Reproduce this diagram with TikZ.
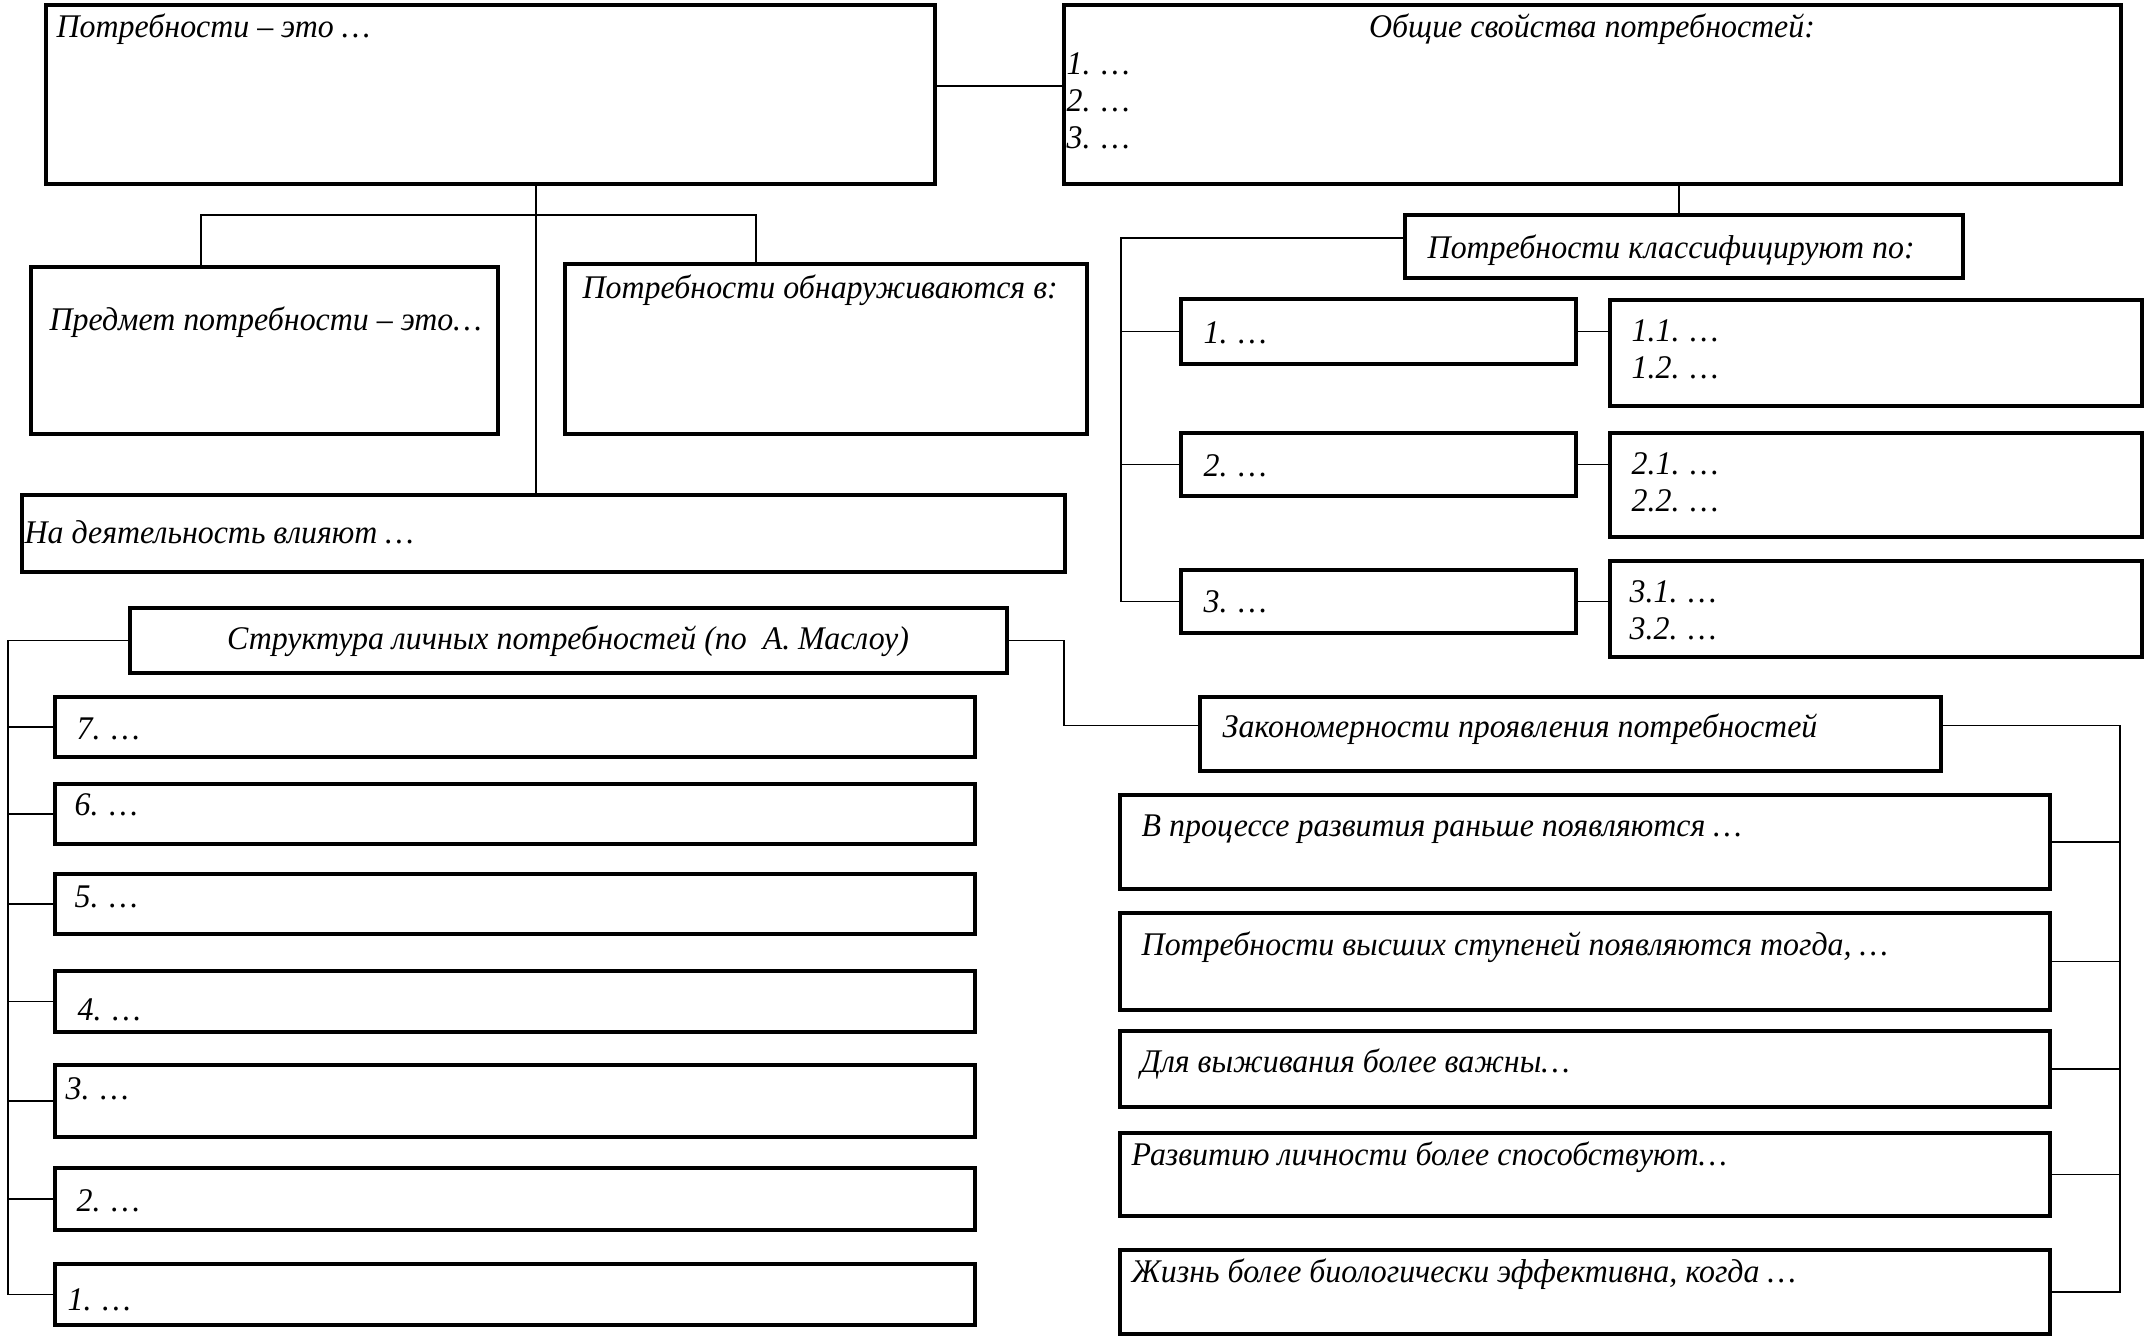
\documentclass[tikz,border=0pt]{standalone}
\usepackage{fontspec}
\setmainfont[FakeStretch=0.965]{Liberation Serif}
\usetikzlibrary{fit}
\tikzset{
 box/.style={draw, line width=1pt, inner sep=0pt},
 conn/.style={draw, line width=0.5pt},
 txt/.style={inner sep=0pt, anchor=base west, font=\fontsize{9.4pt}{10.5pt}\selectfont\itshape},
 ctxt/.style={txt, anchor=base},
}
\newcommand\mkbox[5]{\node[box, fit={(#2,#3)(#4,#5)}] (#1) {};}
\begin{document}
\begin{tikzpicture}[x=0.01cm,y=-0.01cm]
\useasboundingbox (0,0) rectangle (2152,1336);
% boxes
\mkbox{A}{46}{5}{935}{184}
\mkbox{B}{1064}{5}{2121}{184}
\mkbox{P}{31}{267}{498}{434}
\mkbox{O}{565}{264}{1087}{434}
\mkbox{D}{22}{495}{1065}{572}
\mkbox{K}{1405}{215}{1963}{278}
\mkbox{C1}{1181}{299}{1576}{364}
\mkbox{C2}{1181}{433}{1576}{496}
\mkbox{C3}{1181}{570}{1576}{633}
\mkbox{S1}{1610}{300}{2142}{406}
\mkbox{S2}{1610}{433}{2142}{537}
\mkbox{S3}{1610}{561}{2142}{657}
\mkbox{M}{130}{608}{1007}{673}
\mkbox{L7}{55}{697}{975}{757}
\mkbox{L6}{55}{784}{975}{844}
\mkbox{L5}{55}{874}{975}{934}
\mkbox{L4}{55}{971}{975}{1032}
\mkbox{L3}{55}{1065}{975}{1137}
\mkbox{L2}{55}{1168}{975}{1230}
\mkbox{L1}{55}{1264}{975}{1325}
\mkbox{Z}{1200}{697}{1941}{771}
\mkbox{E1}{1120}{795}{2050}{889}
\mkbox{E2}{1120}{913}{2050}{1010}
\mkbox{E3}{1120}{1031}{2050}{1107}
\mkbox{E4}{1120}{1133}{2050}{1216}
\mkbox{E5}{1120}{1250}{2050}{1334}
% texts
\node[txt] (tA) at (56,37) {Потребности – это …};
\node[ctxt] (tB) at (1592,37) {Общие свойства потребностей:};
\node[txt] (tB1) at (1066,74) {1. …};
\node[txt] (tB2) at (1066,111) {2. …};
\node[txt] (tB3) at (1066,148) {3. …};
\node[txt] (tP) at (49,330) {Предмет потребности – это…};
\node[txt] (tO) at (582,298) {Потребности обнаруживаются в:};
\node[txt] (tD) at (24,543) {На деятельность влияют …};
\node[txt] (tK) at (1427,258) {Потребности классифицируют по:};
\node[txt] (tC1) at (1203,343) {1. …};
\node[txt] (tC2) at (1203,476) {2. …};
\node[txt] (tC3) at (1203,612) {3. …};
\node[txt] (tS11) at (1631,341) {1.1. …};
\node[txt] (tS12) at (1631,378) {1.2. …};
\node[txt] (tS21) at (1631,474) {2.1. …};
\node[txt] (tS22) at (1631,511) {2.2. …};
\node[txt] (tS31) at (1629,602) {3.1. …};
\node[txt] (tS32) at (1629,639) {3.2. …};
\node[ctxt] (tM) at (568,649) {Структура личных потребностей (по\ \ А. Маслоу)};
\node[txt] (tL7) at (76,739) {7. …};
\node[txt] (tL6) at (74,815) {6. …};
\node[txt] (tL5) at (74,907) {5. …};
\node[txt] (tL4) at (77,1020) {4. …};
\node[txt] (tL3) at (65,1099) {3. …};
\node[txt] (tL2) at (76,1211) {2. …};
\node[txt] (tL1) at (67,1310) {1. …};
\node[txt] (tZ) at (1222,737) {Закономерности проявления потребностей};
\node[txt] (tE1) at (1141,836) {В процессе развития раньше появляются …};
\node[txt] (tE2) at (1141,955) {Потребности высших ступеней появляются тогда, …};
\node[txt] (tE3) at (1140,1072) {Для выживания более важны…};
\node[txt] (tE4) at (1131,1165) {Развитию личности более способствуют…};
\node[txt] (tE5) at (1131,1282) {Жизнь более биологически эффективна, когда …};
% connectors
\draw[conn] ([yshift=0.087cm]A.east) -- ([yshift=0.087cm]B.west);
\coordinate (jl) at (201,215);
\coordinate (jc) at (536,215);
\coordinate (jr) at (756,215);
\draw[conn] (A.south -| jc) -- (D.north -| jc);
\draw[conn] (P.north -| jl) -- (jl) -- (jr) -- (O.north -| jr);
\coordinate (kx) at (1679,0);
\draw[conn] (B.south -| kx) -- (K.north -| kx);
\coordinate (kv) at (1121,238);
\draw[conn] (K.west |- kv) -- (kv) -- (kv |- C3.west) -- (C3.west);
\draw[conn] (kv |- C1.west) -- (C1.west);
\draw[conn] (kv |- C2.west) -- (C2.west);
\draw[conn] (C1.east) -- (C1.east -| S1.west);
\draw[conn] (C2.east) -- (C2.east -| S2.west);
\draw[conn] (C3.east) -- (C3.east -| S3.west);
\coordinate (mv) at (8,636);
\draw[conn] (M.west) -- (M.west -| mv) -- (mv |- L1.west) -- (L1.west);
\foreach \k in {2,...,7} \draw[conn] (mv |- L\k.west) -- (L\k.west);
\coordinate (mz) at (1064,0);
\coordinate (zw) at ([yshift=0.085cm]Z.west);
\coordinate (ze) at ([yshift=0.085cm]Z.east);
\draw[conn] (M.east) -- (M.east -| mz) -- (mz |- zw) -- (zw);
\coordinate (ez) at (2120,0);
\draw[conn] (ze) -- (ez |- ze) -- (ez |- E5.east) -- (E5.east);
\foreach \k in {1,...,4} \draw[conn] (E\k.east) -- (ez |- E\k.east);
\end{tikzpicture}
\end{document}
